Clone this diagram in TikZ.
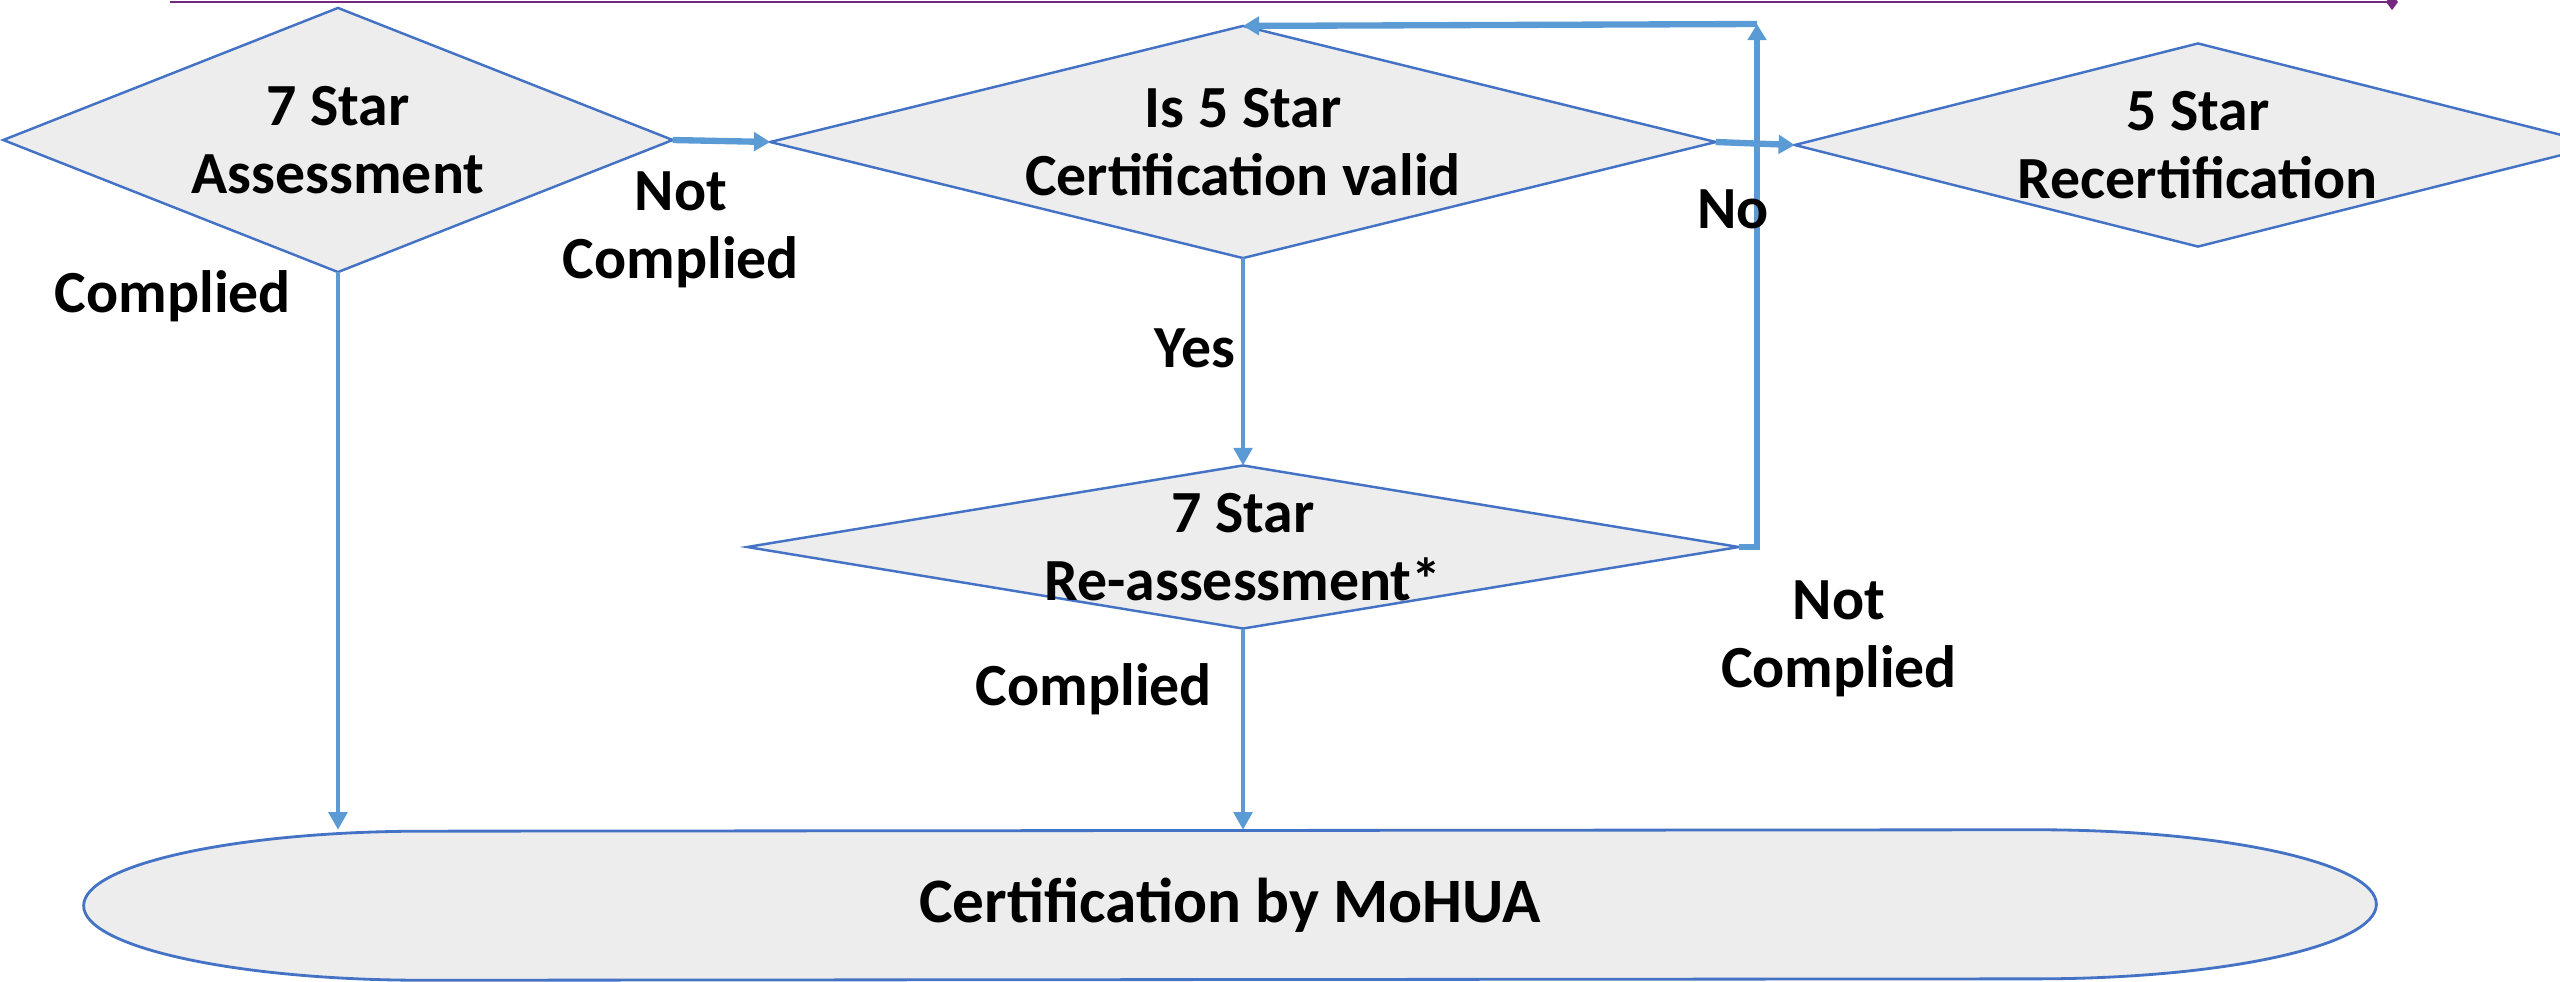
\documentclass[tikz,border=0pt]{standalone}
\usepackage{fontspec}
\setmainfont{Carlito}
\usetikzlibrary{shapes.geometric,arrows.meta}
\definecolor{dborder}{HTML}{4472C4}
\definecolor{dfill}{HTML}{EDEDED}
\definecolor{flowblue}{HTML}{5B9BD5}
\definecolor{topline}{HTML}{74277F}
\pgfdeclarelayer{bg}
\pgfsetlayers{bg,main}

\begin{document}
\begin{tikzpicture}[x=0.01cm,y=-0.01cm]
\tikzstyle{every node}+=[font=\fontsize{17}{19.2}\selectfont\bfseries, align=center]
\tikzstyle{dia}=[diamond, draw=dborder, fill=dfill, line width=0.7pt, inner sep=-3cm, outer sep=0pt]
\tikzstyle{flow}=[draw=flowblue, line width=1.3pt, -{Triangle[length=5pt,width=5.2pt]}]
\tikzstyle{thickflow}=[draw=flowblue, line width=1.8pt, -{Triangle[length=4.6pt,width=5.2pt]}]
\useasboundingbox (0,0) rectangle (2560,981);

% top rule
\draw [topline, line width=0.8pt, -{Diamond[length=3.4pt,width=4.6pt]}] (170,2) -- (2398,2);

% decisions
\node [dia, minimum width=6.69cm, minimum height=2.64cm] (assess) at (338,140) {7 Star\\Assessment};
\node [dia, minimum width=9.45cm, minimum height=2.32cm] (valid) at (1243,142) {Is 5 Star\\Certification valid};
\node [dia, minimum width=8.06cm, minimum height=2.03cm] (recert) at (2198,145) {5 Star\\Recertification};
\node [dia, minimum width=9.91cm, minimum height=1.63cm] (reassess) at (1243,547) {7 Star\\Re-assessment*};

% terminal
\node [inner sep=0pt, minimum width=22.9cm, minimum height=1.49cm, font=\fontsize{18}{21}\selectfont\bfseries] (mohua) at (1230,905) {Certification by MoHUA};
\begin{pgfonlayer}{bg}
\draw [draw=dborder, fill=dfill, line width=0.8pt] ([xshift=3.4cm]mohua.south west)
  arc [start angle=270, end angle=90, x radius=3.4cm, y radius=0.745cm] -- ([xshift=-3.4cm]mohua.north east)
  arc [start angle=90, end angle=-90, x radius=3.4cm, y radius=0.745cm] -- cycle;
\end{pgfonlayer}

% connectors
\draw [thickflow] (assess.east) -- (valid.west);
\draw [thickflow] (valid.east) -- (recert.west);
\draw [flow] (valid.south) -- (reassess.north);
\coordinate (back) at (1757,24);
\draw [thickflow] (reassess.east) -- (reassess.east -| back) -- (back);
\draw [thickflow] (back) -- (valid.north);
\draw [flow] (assess.south) -- (assess.south |- mohua.north);
\draw [flow] (reassess.south) -- (reassess.south |- mohua.north);

% labels
\node (complied1) at (173,296) {Complied};
\node (notcomplied1) at (681,230) {Not\\Complied};
\node (no) at (1733,209) {No};
\node (yes) at (1195,348) {Yes};
\node (complied2) at (1094,689) {Complied};
\node (notcomplied2) at (1839,639) {Not\\Complied};
\end{tikzpicture}
\end{document}
